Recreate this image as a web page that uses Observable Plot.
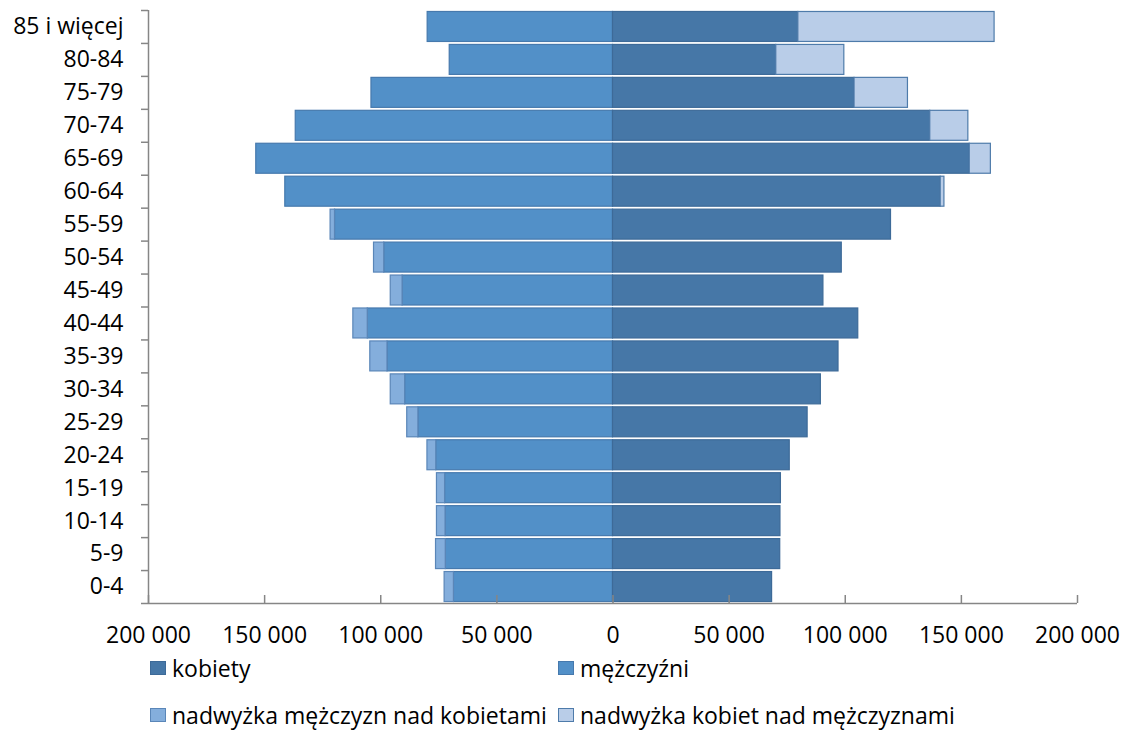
<!DOCTYPE html>
<html><head><meta charset="utf-8">
<script src="https://cdn.jsdelivr.net/npm/d3@7"></script>
<script src="https://cdn.jsdelivr.net/npm/@observablehq/plot@0.6"></script>
<style>
body{margin:0;background:#fff;font-family:"Open Sans", sans-serif;}
#wrap{position:relative;width:1128px;height:731px;overflow:hidden;}
#wrap svg{position:absolute;left:0;top:0;}
.leg{position:absolute;font-size:23px;line-height:24px;display:flex;align-items:center;white-space:nowrap;color:#000;}
.sw{display:inline-block;width:16px;height:14px;margin-right:6px;box-sizing:border-box;border:1px solid #3d6a99;}
</style></head><body><div id="wrap"></div>
<script>
const ageGroups = ["0-4","5-9","10-14","15-19","20-24","25-29","30-34","35-39","40-44","45-49","50-54","55-59","60-64","65-69","70-74","75-79","80-84","85 i więcej"];
const kobiety   = [68500,72000,72100,72300,76100,83800,89500,97100,105600,90600,98500,119700,141100,153600,136600,104000,70300,79800];
const mezczyzni = [68500,72000,72100,72300,76100,83800,89500,97100,105600,90600,98500,119700,141100,153600,136600,104000,70300,79800];
const nadwyzkaM = [4000,4200,3700,3500,3800,4800,6200,7400,6200,5100,4400,1900,0,0,0,0,0,0];
const nadwyzkaK = [0,0,0,0,0,0,0,0,0,0,0,0,1600,9100,16400,23000,29300,84500];
const xTicks = [-200000,-150000,-100000,-50000,0,50000,100000,150000,200000];

const seriesNames = ["kobiety","mężczyźni","nadwyżka mężczyzn nad kobietami","nadwyżka kobiet nad mężczyznami"];
const fills   = ["#4677A7","#5290C8","#84AEDC","#B9CDE8"];
const strokes = ["#3D6A98","#4679AD","#5A86B8","#4E7BAA"];

const rows = [];
ageGroups.forEach((a,i)=>{
  rows.push({age:a, series:seriesNames[1], value:-mezczyzni[i]});
  rows.push({age:a, series:seriesNames[2], value:-nadwyzkaM[i]});
  rows.push({age:a, series:seriesNames[0], value:kobiety[i]});
  rows.push({age:a, series:seriesNames[3], value:nadwyzkaK[i]});
});

const W=1128, H=650, plotTop=10, plotBottom=603;
const nCat = ageGroups.length;
const pIn = 0.09;
const step = (plotBottom-plotTop)/nCat;
const fmt = d => d3.format(",")(Math.abs(d)).replace(/,/g," ");
const axisColor = "#868686";
const font = "'Open Sans', sans-serif";

const chart = Plot.plot({
  width: W, height: H,
  marginLeft: 148, marginRight: 51, marginTop: plotTop, marginBottom: H-plotBottom,
  style: {fontFamily: font, fontSize: "23px", color:"#000", background:"#fff"},
  x: {domain:[-200000,200000], label:null},
  y: {domain: ageGroups.slice().reverse(), paddingInner: pIn, paddingOuter: pIn/2, round:false, label:null},
  color: {domain: seriesNames, range: fills},
  marks: [
    Plot.barX(rows, Plot.stackX({x:"value", y:"age", fill:"series",
      stroke: d => strokes[seriesNames.indexOf(d.series)], strokeWidth: 1.2})),
    Plot.axisY({tickSize:0, tickPadding:25, fontSize:23, fill:"#000", label:null}),
    Plot.axisY({tickSize:7, tickFormat:()=>"", dy:-step/2, stroke:axisColor, strokeWidth:1.5, label:null}),
    Plot.axisX({ticks:xTicks, tickSize:8, tickFormat:()=>"", dy:-8, stroke:axisColor, strokeWidth:1.5, label:null}),
    Plot.axisX({ticks:xTicks, tickSize:0, tickPadding:23, tickFormat:fmt, fontSize:23, fill:"#000", label:null}),
    Plot.ruleX([-200000], {stroke:axisColor, strokeWidth:1.5}),
    Plot.ruleY([ageGroups[0]], {y: d => d, dy: step/2, x1:-200000, x2:200000, stroke:axisColor, strokeWidth:1.5, insetLeft:-7})
  ]
});
const wrap = document.getElementById("wrap");
wrap.appendChild(chart);

const legendPos = [
  {i:0, x:150, y:656},
  {i:1, x:558, y:656},
  {i:2, x:150, y:703},
  {i:3, x:558, y:703}
];
legendPos.forEach(p=>{
  const d = document.createElement("div");
  d.className="leg";
  d.style.left=p.x+"px"; d.style.top=p.y+"px";
  const s = document.createElement("span");
  s.className="sw"; s.style.background=fills[p.i]; s.style.borderColor=strokes[p.i];
  d.appendChild(s);
  d.appendChild(document.createTextNode(seriesNames[p.i]));
  wrap.appendChild(d);
});
</script>
</body></html>
